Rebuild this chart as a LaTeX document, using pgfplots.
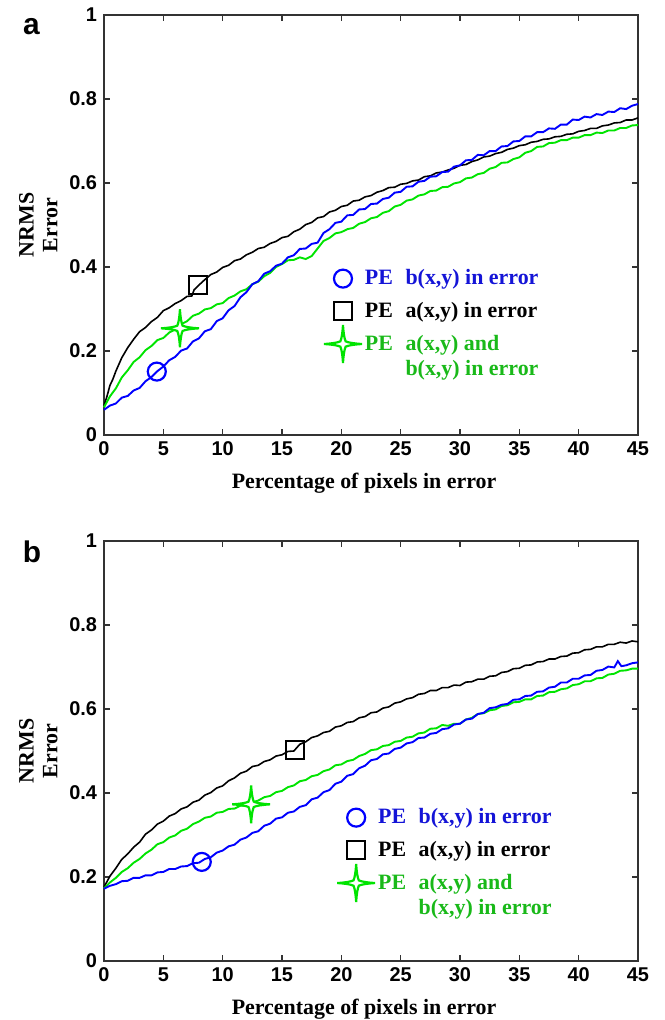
\documentclass[border=0pt]{standalone}
\usepackage{pgfplots}
\pgfplotsset{compat=1.18}
\usepackage{fontspec}
\setmainfont{Liberation Serif}
\setsansfont{Liberation Sans}

\definecolor{cblue}{RGB}{0,0,255}
\definecolor{cgreen}{RGB}{0,228,0}
\definecolor{tblue}{RGB}{20,20,215}
\definecolor{tgreen}{RGB}{25,185,25}

% four-pointed star with thin, slightly concave arms
\newcommand\starq[4]{%
  \pgfpathquadraticcurveto{\pgfqpoint{#1}{#2}}{\pgfqpoint{#3}{#4}}}
\pgfdeclareplotmark{star4}{%
  \pgfpathmoveto{\pgfqpoint{0pt}{\pgfplotmarksize}}%
  \starq{0.04\pgfplotmarksize}{0.35\pgfplotmarksize}{0.14\pgfplotmarksize}{0.14\pgfplotmarksize}%
  \starq{0.35\pgfplotmarksize}{0.04\pgfplotmarksize}{\pgfplotmarksize}{0pt}%
  \starq{0.35\pgfplotmarksize}{-0.04\pgfplotmarksize}{0.14\pgfplotmarksize}{-0.14\pgfplotmarksize}%
  \starq{0.04\pgfplotmarksize}{-0.35\pgfplotmarksize}{0pt}{-\pgfplotmarksize}%
  \starq{-0.04\pgfplotmarksize}{-0.35\pgfplotmarksize}{-0.14\pgfplotmarksize}{-0.14\pgfplotmarksize}%
  \starq{-0.35\pgfplotmarksize}{-0.04\pgfplotmarksize}{-\pgfplotmarksize}{0pt}%
  \starq{-0.35\pgfplotmarksize}{0.04\pgfplotmarksize}{-0.14\pgfplotmarksize}{0.14\pgfplotmarksize}%
  \starq{-0.04\pgfplotmarksize}{0.35\pgfplotmarksize}{0pt}{\pgfplotmarksize}%
  \pgfpathclose
  \pgfusepathqfillstroke
}

\pgfplotsset{
  panel/.style={
    width=267bp, height=210bp, scale only axis, clip=false,
    xmin=0, xmax=45, ymin=0, ymax=1,
    xtick={0,5,10,15,20,25,30,35,40,45},
    xticklabels={0,5,10,15,20,25,30,35,40,45},
    ytick={0,0.2,0.4,0.6,0.8,1},
    yticklabels={0,0.2,0.4,0.6,0.8,1},
    xtick pos=both, ytick pos=both, tick align=inside,
    major tick length=3bp,
    axis line style={black!80, line width=0.6bp},
    tick style={black!80, line width=0.6bp},
    tick label style={font=\sffamily\bfseries\fontsize{10}{12}\selectfont},
    /pgf/number format/assume math mode=true,
    xlabel={Percentage of pixels in error},
    xlabel style={font=\bfseries\fontsize{11}{13}\selectfont,
      at={(axis description cs:0.487,-0.09)}, anchor=north, inner sep=0pt},
    ylabel={NRMS\\Error},
    ylabel style={font=\bfseries\fontsize{11}{12}\selectfont, align=center,
      at={(axis description cs:-0.086,0.5)}, anchor=south, inner sep=0pt},
    legend style={draw=none, fill=none, inner sep=0pt, outer sep=0pt,
      row sep=7.25bp, column sep=11bp,
      font=\bfseries\fontsize{11}{13}\selectfont,
      cells={anchor=west}, nodes={inner sep=0pt}},
    legend image code/.code={\draw[#1, overlay] plot coordinates {(0pt,0pt)};},
  },
  curve/.style={sharp plot, no marks, forget plot, line width=0.95bp},
  pt/.style={only marks, line width=1.1bp, mark options={fill=white, solid}},
}
% second line of the third legend entry, pulled up to the line spacing
\newcommand\secondline{\raisebox{0pt}[3.7bp]{\hspace*{1.85em}b(x,y) in error}}

\begin{document}
\begin{tikzpicture}
\path (-52bp,-292.5bp) rectangle (280.5bp,217.5bp);

% ---------------- panel a ----------------
\begin{axis}[panel, at={(0,0)}, anchor=south west,
  legend style={at={(axis cs:20.14,0.394)}, anchor=north west}]
\addplot[curve, black, line width=0.8bp] coordinates {
(0,0.070) (0.25,0.092) (0.5,0.118) (0.75,0.133) (1,0.152) (1.25,0.168) (1.5,0.184) (1.75,0.196) (2,0.208) (2.5,0.228) (3,0.246) (3.5,0.256) (4,0.270) (4.5,0.280) (5,0.296) (5.5,0.303) (6,0.313) (6.5,0.320) (7,0.330) (7.4,0.331) (7.6,0.346) (8,0.357) (8.5,0.370) (9,0.382) (9.5,0.388) (10,0.399) (10.5,0.404) (11,0.415) (11.5,0.419) (12,0.429) (12.5,0.435) (13,0.444) (13.5,0.447) (14,0.456) (14.5,0.461) (15,0.470) (15.5,0.473) (16,0.484) (16.5,0.490) (17,0.501) (17.5,0.506) (18,0.517) (18.5,0.520) (19,0.531) (19.5,0.535) (20,0.544) (20.5,0.547) (21,0.557) (21.5,0.559) (22,0.567) (22.5,0.570) (23,0.578) (23.5,0.582) (24,0.589) (24.5,0.590) (25,0.597) (25.5,0.599) (26,0.605) (26.5,0.607) (27,0.615) (27.5,0.617) (28,0.624) (28.5,0.626) (29,0.631) (29.5,0.635) (30,0.642) (30.5,0.644) (31,0.651) (31.5,0.655) (32,0.662) (32.5,0.664) (33,0.670) (33.5,0.673) (34,0.680) (34.5,0.683) (35,0.689) (35.5,0.691) (36,0.697) (36.5,0.699) (37,0.704) (37.5,0.705) (38,0.710) (38.5,0.711) (39,0.716) (39.5,0.717) (40,0.723) (40.5,0.725) (41,0.730) (41.5,0.730) (42,0.736) (42.5,0.738) (43,0.743) (43.5,0.744) (44,0.750) (44.5,0.750) (45,0.755)};
\addplot[curve, cgreen] coordinates {
(0,0.066) (0.5,0.092) (1,0.111) (1.5,0.137) (2,0.154) (2.5,0.174) (3,0.185) (3.5,0.202) (4,0.212) (4.5,0.226) (5,0.231) (5.5,0.244) (6,0.251) (6.5,0.264) (7,0.271) (7.5,0.284) (8,0.289) (8.5,0.299) (9,0.302) (9.5,0.311) (10,0.314) (10.5,0.326) (11,0.332) (11.5,0.342) (12,0.347) (12.5,0.359) (13,0.365) (13.5,0.378) (14,0.386) (14.5,0.400) (15,0.407) (15.5,0.416) (16,0.417) (16.5,0.423) (17,0.419) (17.5,0.426) (18,0.444) (18.5,0.462) (19,0.469) (19.5,0.480) (20,0.483) (20.5,0.490) (21,0.493) (21.5,0.503) (22,0.507) (22.5,0.516) (23,0.519) (23.5,0.529) (24,0.533) (24.5,0.544) (25,0.548) (25.5,0.558) (26,0.561) (26.5,0.570) (27,0.573) (27.5,0.581) (28,0.582) (28.5,0.590) (29,0.591) (29.5,0.599) (30,0.602) (30.5,0.611) (31,0.613) (31.5,0.621) (32,0.624) (32.5,0.634) (33,0.638) (33.5,0.648) (34,0.649) (34.5,0.657) (35,0.661) (35.5,0.672) (36,0.676) (36.5,0.686) (37,0.687) (37.5,0.695) (38,0.696) (38.5,0.702) (39,0.702) (39.5,0.708) (40,0.708) (40.5,0.714) (41,0.714) (41.5,0.720) (42,0.719) (42.5,0.725) (43,0.725) (43.5,0.731) (44,0.731) (44.5,0.737) (45,0.738)};
\addplot[curve, cblue] coordinates {
(0,0.060) (0.5,0.070) (1,0.075) (1.5,0.089) (2,0.093) (2.5,0.106) (3,0.112) (3.5,0.128) (4,0.138) (4.5,0.152) (5,0.163) (5.5,0.178) (6,0.186) (6.5,0.201) (7,0.206) (7.5,0.223) (8,0.230) (8.5,0.247) (9,0.252) (9.5,0.271) (10,0.278) (10.5,0.297) (11,0.307) (11.5,0.328) (12,0.340) (12.5,0.359) (13,0.366) (13.5,0.384) (14,0.390) (14.5,0.403) (15,0.408) (15.5,0.423) (16,0.428) (16.5,0.443) (17,0.444) (17.5,0.455) (18,0.458) (18.5,0.481) (19,0.490) (19.5,0.505) (20,0.508) (20.5,0.523) (21,0.524) (21.5,0.537) (22,0.538) (22.5,0.550) (23,0.551) (23.5,0.562) (24,0.565) (24.5,0.577) (25,0.579) (25.5,0.591) (26,0.592) (26.5,0.603) (27,0.605) (27.5,0.615) (28,0.616) (28.5,0.626) (29,0.627) (29.5,0.639) (30,0.642) (30.5,0.654) (31,0.655) (31.5,0.667) (32,0.666) (32.5,0.676) (33,0.676) (33.5,0.687) (34,0.688) (34.5,0.699) (35,0.700) (35.5,0.711) (36,0.711) (36.5,0.721) (37,0.721) (37.5,0.730) (38,0.729) (38.5,0.739) (39,0.739) (39.5,0.751) (40,0.750) (40.5,0.758) (41,0.756) (41.5,0.764) (42,0.762) (42.5,0.770) (43,0.769) (43.5,0.778) (44,0.776) (44.5,0.784) (45,0.788)};
\addplot[pt, cblue, mark=o, mark size=4.5bp] coordinates {(4.45,0.151)};
\addlegendentry[text=tblue]{\makebox[1.85em][l]{PE}b(x,y) in error}
\addplot[pt, black, mark=square, mark size=4.5bp] coordinates {(7.9,0.357)};
\addlegendentry[text=black]{\makebox[1.85em][l]{PE}a(x,y) in error}
\addplot[pt, cgreen, mark=star4, mark size=9.5bp] coordinates {(6.4,0.254)};
\addlegendentry[text=tgreen]{\makebox[1.85em][l]{PE}a(x,y) and}
\addlegendimage{empty legend}
\addlegendentry[text=tgreen]{\secondline}
\node[font=\sffamily\bfseries\fontsize{15}{15}\selectfont] at (axis description cs:-0.136,0.972) {a};
\end{axis}

% ---------------- panel b ----------------
\begin{axis}[panel, at={(0,-263bp)}, anchor=south west,
  legend style={at={(axis cs:21.25,0.363)}, anchor=north west}]
\addplot[curve, black, line width=0.8bp] coordinates {
(0,0.176) (0.5,0.202) (1,0.221) (1.5,0.242) (2,0.255) (2.5,0.271) (3,0.283) (3.5,0.302) (4,0.312) (4.5,0.326) (5,0.333) (5.5,0.345) (6,0.351) (6.5,0.362) (7,0.367) (7.5,0.378) (8,0.383) (8.5,0.395) (9,0.401) (9.5,0.412) (10,0.417) (10.5,0.429) (11,0.436) (11.5,0.447) (12,0.452) (12.5,0.463) (13,0.466) (13.5,0.475) (14,0.479) (14.5,0.488) (15,0.491) (15.5,0.499) (16,0.500) (16.5,0.516) (17,0.522) (17.5,0.532) (18,0.536) (18.5,0.544) (19,0.547) (19.5,0.557) (20,0.560) (20.5,0.568) (21,0.570) (21.5,0.579) (22,0.582) (22.5,0.591) (23,0.593) (23.5,0.602) (24,0.605) (24.5,0.614) (25,0.617) (25.5,0.624) (26,0.627) (26.5,0.635) (27,0.637) (27.5,0.644) (28,0.644) (28.5,0.651) (29,0.651) (29.5,0.657) (30,0.656) (30.5,0.664) (31,0.665) (31.5,0.671) (32,0.671) (32.5,0.678) (33,0.679) (33.5,0.687) (34,0.689) (34.5,0.696) (35,0.697) (35.5,0.704) (36,0.705) (36.5,0.712) (37,0.713) (37.5,0.719) (38,0.719) (38.5,0.725) (39,0.726) (39.5,0.733) (40,0.734) (40.5,0.741) (41,0.742) (41.5,0.748) (42,0.748) (42.5,0.754) (43,0.754) (43.5,0.759) (44,0.757) (44.5,0.762) (45,0.760)};
\addplot[curve, cgreen] coordinates {
(0,0.173) (0.5,0.187) (1,0.198) (1.5,0.212) (2,0.221) (2.5,0.234) (3,0.243) (3.5,0.256) (4,0.265) (4.5,0.278) (5,0.283) (5.5,0.294) (6,0.299) (6.5,0.310) (7,0.315) (7.5,0.326) (8,0.332) (8.5,0.341) (9,0.344) (9.5,0.353) (10,0.355) (10.5,0.362) (11,0.363) (11.5,0.370) (12,0.370) (12.5,0.378) (13,0.382) (13.5,0.390) (14,0.393) (14.5,0.402) (15,0.405) (15.5,0.414) (16,0.418) (16.5,0.428) (17,0.431) (17.5,0.440) (18,0.443) (18.5,0.452) (19,0.456) (19.5,0.466) (20,0.468) (20.5,0.476) (21,0.479) (21.5,0.488) (22,0.493) (22.5,0.502) (23,0.504) (23.5,0.512) (24,0.514) (24.5,0.522) (25,0.524) (25.5,0.532) (26,0.534) (26.5,0.542) (27,0.544) (27.5,0.553) (28,0.554) (28.5,0.562) (29,0.560) (29.5,0.565) (30,0.565) (30.5,0.575) (31,0.579) (31.5,0.588) (32,0.590) (32.5,0.597) (33,0.599) (33.5,0.607) (34,0.609) (34.5,0.616) (35,0.617) (35.5,0.623) (36,0.623) (36.5,0.631) (37,0.632) (37.5,0.640) (38,0.641) (38.5,0.647) (39,0.649) (39.5,0.657) (40,0.659) (40.5,0.666) (41,0.666) (41.5,0.673) (42,0.674) (42.5,0.682) (43,0.684) (43.5,0.691) (44,0.692) (44.5,0.696) (45,0.696)};
\addplot[curve, cblue] coordinates {
(0,0.172) (0.5,0.179) (1,0.183) (1.5,0.190) (2,0.191) (2.5,0.198) (3,0.198) (3.5,0.204) (4,0.204) (4.5,0.211) (5,0.212) (5.5,0.219) (6,0.219) (6.5,0.225) (7,0.226) (7.5,0.233) (8,0.234) (8.5,0.243) (9,0.247) (9.5,0.258) (10,0.263) (10.5,0.273) (11,0.277) (11.5,0.289) (12,0.294) (12.5,0.305) (13,0.309) (13.5,0.322) (14,0.327) (14.5,0.339) (15,0.342) (15.5,0.353) (16,0.356) (16.5,0.367) (17,0.371) (17.5,0.385) (18,0.389) (18.5,0.402) (19,0.407) (19.5,0.422) (20,0.427) (20.5,0.441) (21,0.445) (21.5,0.459) (22,0.465) (22.5,0.478) (23,0.481) (23.5,0.492) (24,0.494) (24.5,0.505) (25,0.508) (25.5,0.518) (26,0.521) (26.5,0.531) (27,0.532) (27.5,0.541) (28,0.543) (28.5,0.552) (29,0.554) (29.5,0.563) (30,0.565) (30.5,0.575) (31,0.577) (31.5,0.588) (32,0.591) (32.5,0.602) (33,0.604) (33.5,0.610) (34,0.612) (34.5,0.622) (35,0.623) (35.5,0.631) (36,0.632) (36.5,0.641) (37,0.642) (37.5,0.651) (38,0.653) (38.5,0.663) (39,0.663) (39.5,0.672) (40,0.672) (40.5,0.680) (41,0.681) (41.5,0.691) (42,0.693) (42.5,0.701) (43,0.699) (43.3,0.714) (43.6,0.702) (44,0.704) (44.5,0.709) (45,0.711)};
\addplot[pt, cblue, mark=o, mark size=4.5bp] coordinates {(8.24,0.236)};
\addlegendentry[text=tblue]{\makebox[1.85em][l]{PE}b(x,y) in error}
\addplot[pt, black, mark=square, mark size=4.5bp] coordinates {(16.1,0.503)};
\addlegendentry[text=black]{\makebox[1.85em][l]{PE}a(x,y) in error}
\addplot[pt, cgreen, mark=star4, mark size=9.5bp] coordinates {(12.4,0.373)};
\addlegendentry[text=tgreen]{\makebox[1.85em][l]{PE}a(x,y) and}
\addlegendimage{empty legend}
\addlegendentry[text=tgreen]{\secondline}
\node[font=\sffamily\bfseries\fontsize{15}{15}\selectfont] at (axis description cs:-0.135,0.974) {b};
\end{axis}
\end{tikzpicture}
\end{document}
